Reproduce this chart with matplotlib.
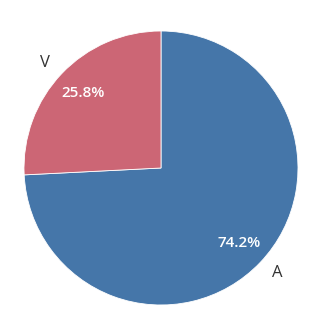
import matplotlib
matplotlib.use('Agg')
import matplotlib.pyplot as plt

labels = ['A', 'V']
values = [74.2, 25.8]
colors = ['#4576a9', '#cc6675']

fig = plt.figure(figsize=(3.22, 3.27), dpi=100)
ax = fig.add_axes([24 / 322, 22 / 327, 274 / 322, 274 / 327])
wedges, texts, autotexts = ax.pie(values, labels=labels, colors=colors, startangle=90,
                                  counterclock=False, autopct='%.1f%%', pctdistance=0.79,
                                  labeldistance=1.115, radius=1.0,
                                  wedgeprops={'edgecolor': 'white', 'linewidth': 0.6},
                                  textprops={'fontsize': 12, 'color': '#333333', 'family': 'Open Sans'})
for t in autotexts:
    t.set_color('white')
    t.set_fontweight('semibold')
    t.set_fontsize(11)
ax.set_xlim(-1, 1)
ax.set_ylim(-1, 1)
ax.set_aspect('equal')
fig.savefig('out.png', dpi=100)
